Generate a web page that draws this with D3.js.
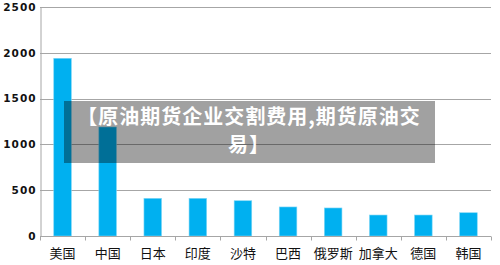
<!DOCTYPE html>
<html>
<head>
<meta charset="utf-8">
<script src="https://cdn.jsdelivr.net/npm/d3@7"></script>
<style>
    body { margin: 0; background: #fff; }
    svg { display: block; }
</style>
</head>
<body>
<svg id="chart" width="500" height="265"></svg>
<script>
//  chart data
const countries = ["美国", "中国", "日本", "印度", "沙特", "巴西", "俄罗斯", "加拿大", "德国", "韩国"];
const costs = [1940, 1190, 411, 411, 385, 317, 306, 229, 229, 254];
const yTicks = [0, 500, 1000, 1500, 2000, 2500];
const titleLines = ["【原油期货企业交割费用,期货原油交", "易】"];

const svg = d3.select("#chart");
const plot = { left: 40, right: 491, top: 7, bottom: 236 };

const x = d3.scaleBand()
    .domain(countries)
    .range([plot.left, plot.right])
    .paddingInner(0.61)
    .paddingOuter(0.305);

const y = d3.scaleLinear()
    .domain([0, 2500])
    .range([plot.bottom, plot.top]);

//  gridlines
svg.append("g")
    .selectAll("line")
    .data(yTicks.filter(d => d > 0))
    .join("line")
    .attr("x1", plot.left)
    .attr("x2", plot.right)
    .attr("y1", d => Math.round(y(d)) + 0.5)
    .attr("y2", d => Math.round(y(d)) + 0.5)
    .attr("stroke", "#a6a6a6")
    .attr("stroke-width", 1);

//  y axis
const yAxis = svg.append("g")
    .attr("transform", `translate(${plot.left + 0.5},0)`)
    .call(d3.axisLeft(y).tickValues(yTicks).tickFormat(d3.format("d")).tickSize(0).tickPadding(4));
yAxis.select(".domain").attr("stroke", "#a6a6a6");
yAxis.selectAll("text")
    .attr("font-family", "'DejaVu Sans', sans-serif")
    .attr("font-size", 10.5)
    .attr("font-weight", "bold")
    .attr("letter-spacing", 1)
    .attr("fill", "#111");

//  bars
svg.append("g")
    .selectAll("rect")
    .data(countries)
    .join("rect")
    .attr("x", d => x(d))
    .attr("width", x.bandwidth())
    .attr("y", (d, i) => y(costs[i]))
    .attr("height", (d, i) => y(0) - y(costs[i]))
    .attr("fill", "#00b0f0")
    .attr("stroke", "#7fd6f5")
    .attr("stroke-width", 0.6);

//  x axis with ticks on band edges
const xAxis = svg.append("g")
    .attr("transform", `translate(0,${plot.bottom + 0.5})`);
xAxis.append("line")
    .attr("x1", plot.left)
    .attr("x2", plot.right)
    .attr("stroke", "#a6a6a6");
const step = x.step();
xAxis.selectAll(".tk")
    .data(d3.range(countries.length + 1))
    .join("line")
    .attr("class", "tk")
    .attr("x1", i => Math.round(plot.left + i * step) + 0.5)
    .attr("x2", i => Math.round(plot.left + i * step) + 0.5)
    .attr("y1", 0)
    .attr("y2", 4)
    .attr("stroke", "#a6a6a6");
xAxis.selectAll("text")
    .data(countries)
    .join("text")
    .attr("x", d => x(d) + x.bandwidth() / 2)
    .attr("y", 21)
    .attr("text-anchor", "middle")
    .attr("font-family", "'Noto Sans CJK SC', sans-serif")
    .attr("font-size", 13)
    .attr("fill", "#111")
    .text(d => d);

//  overlay caption box
svg.append("rect")
    .attr("x", 64)
    .attr("y", 101)
    .attr("width", 371)
    .attr("height", 62)
    .attr("fill", "rgba(0,0,0,0.37)");

svg.append("text")
    .attr("text-anchor", "middle")
    .attr("font-family", "'Noto Sans CJK SC', sans-serif")
    .attr("font-size", 20)
    .attr("font-weight", "bold")
    .attr("letter-spacing", 1)
    .attr("fill", "#fff")
    .selectAll("tspan")
    .data(titleLines)
    .join("tspan")
    .attr("x", 249)
    .attr("y", (d, i) => 124 + i * 28)
    .text(d => d);
</script>
</body>
</html>
